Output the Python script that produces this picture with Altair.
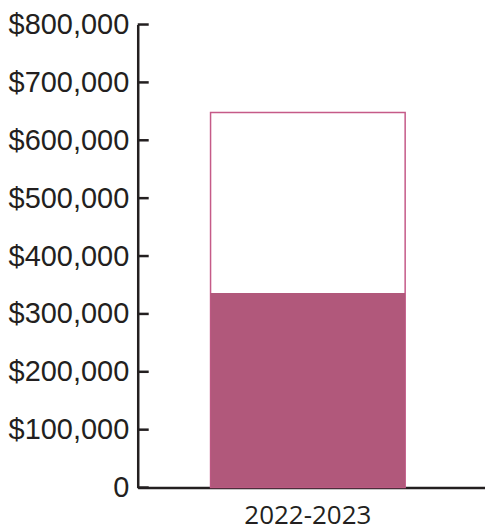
import altair as alt
import pandas as pd

years = ["2022-2023"]
total_values = [648000]
filled_values = [336000]
tick_values = [0, 100000, 200000, 300000, 400000, 500000, 600000, 700000, 800000]

df = pd.DataFrame({"year": years, "total": total_values, "filled": filled_values})
ticks_df = pd.DataFrame({"v": tick_values})

dark = "#231f20"

x_enc = alt.X(
    "year:N",
    title=None,
    scale=alt.Scale(paddingInner=0, paddingOuter=0.3923, align=0.477),
    axis=alt.Axis(labelAngle=0, ticks=False, domainWidth=2.5, domainColor=dark,
                  labelFont="Open Sans", labelFontSize=26, labelColor=dark,
                  labelPadding=15),
)
y_scale = alt.Scale(domain=[0, 800000], nice=False)
y_axis = alt.Axis(values=tick_values, ticks=False, grid=False, domainWidth=2.5,
                  domainColor=dark, labelFont="Liberation Sans", labelFontSize=29,
                  labelColor=dark, labelPadding=9,
                  labelExpr="datum.value == 0 ? '0' : '$' + format(datum.value, ',')")

outline = alt.Chart(df).mark_bar(fill="white", stroke="#c55a88", strokeWidth=1.5).encode(
    x=x_enc,
    y=alt.Y("total:Q", title=None, scale=y_scale, axis=y_axis),
)
filled = alt.Chart(df).mark_bar(color="#b1587b").encode(
    x=x_enc,
    y=alt.Y("filled:Q", scale=y_scale),
)
ticks = alt.Chart(ticks_df).mark_rule(color=dark, strokeWidth=2.5).encode(
    y=alt.Y("v:Q", scale=y_scale),
    x=alt.value(0),
    x2=alt.value(11),
)

chart = alt.layer(outline, filled, ticks).properties(
    width=348, height=464,
    padding={"left": 0, "top": 2, "right": 0, "bottom": 10},
).configure_view(stroke=None)

chart.save("out.html", embed_options={"renderer": "svg", "actions": False})
